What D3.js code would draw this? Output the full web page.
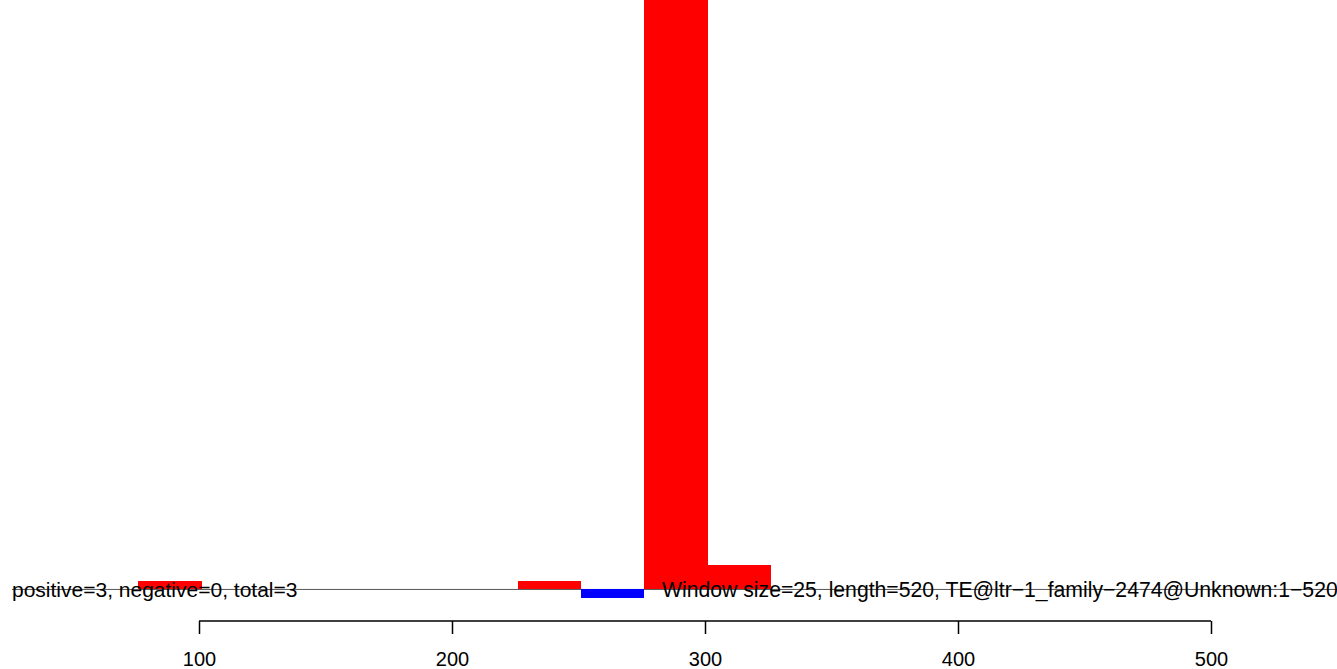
<!DOCTYPE html>
<html>
<head>
<meta charset="utf-8">
<script src="https://cdn.jsdelivr.net/npm/d3@7/dist/d3.min.js"></script>
<style>
  html, body { margin: 0; padding: 0; background: #fff; }
  svg { display: block; font-family: "Liberation Sans", Arial, Helvetica, sans-serif; }
</style>
</head>
<body>
<svg id="chart" width="1337" height="669"></svg>
<script>
// ---- data ----
const windowSize = 25;
const seqLength = 520;
const posBinStarts = [76, 226, 276, 301];
const posValues   = [1, 1, 80, 3];
const negBinStarts = [251];
const negValues    = [1];
const tickValues = [100, 200, 300, 400, 500];
const leftLabel = "positive=3, negative=0, total=3";
const rightLabel = "Window size=25, length=520, TE@ltr\u22121_family\u22122474@Unknown:1\u2212520";

// ---- layout ----
const W = 1337, H = 669;
const svg = d3.select("#chart");

const x = d3.scaleLinear().domain([100, 500]).range([199, 1211]);
const y = d3.scaleLinear().domain([-1, 3]).range([597.6, 565]);

const g = svg.append("g");

// baseline
g.append("line")
  .attr("x1", 12).attr("x2", W)
  .attr("y1", y(0)).attr("y2", y(0))
  .attr("stroke", "#555").attr("stroke-width", 1);

// positive bars
g.selectAll("rect.pos")
  .data(posBinStarts.map((s, i) => ({ s, v: posValues[i] })))
  .join("rect")
  .attr("class", "pos")
  .attr("shape-rendering", "crispEdges")
  .attr("x", d => x(d.s))
  .attr("width", d => x(d.s + windowSize) - x(d.s))
  .attr("y", d => y(d.v))
  .attr("height", d => y(0) - y(d.v))
  .attr("fill", "#ff0000");

// negative bars
g.selectAll("rect.neg")
  .data(negBinStarts.map((s, i) => ({ s, v: negValues[i] })))
  .join("rect")
  .attr("class", "neg")
  .attr("shape-rendering", "crispEdges")
  .attr("x", d => x(d.s))
  .attr("width", d => x(d.s + windowSize) - x(d.s))
  .attr("y", y(0))
  .attr("height", d => y(-d.v) - y(0))
  .attr("fill", "#0000ff");

// texts
g.append("text")
  .attr("x", 12).attr("y", 596.5)
  .attr("font-size", 21).attr("fill", "#000")
  .text(leftLabel);

g.append("text")
  .attr("x", 662).attr("y", 596.5)
  .attr("font-size", 21.2).attr("fill", "#000")
  .text(rightLabel);

// x axis
const axis = d3.axisBottom(x).tickValues(tickValues).tickSize(13).tickPadding(18).tickFormat(d3.format("d"));
const ax = svg.append("g")
  .attr("transform", "translate(0,621)")
  .call(axis);
ax.select(".domain").attr("stroke", "#000").attr("stroke-width", 1.5)
  .attr("d", `M${x(100)},0H${x(500)}`);
ax.selectAll(".tick line").attr("stroke", "#000").attr("stroke-width", 1.5);
ax.selectAll(".tick text")
  .attr("font-size", 20)
  .attr("font-family", "Liberation Sans, Arial, sans-serif")
  .attr("fill", "#000");
</script>
</body>
</html>
